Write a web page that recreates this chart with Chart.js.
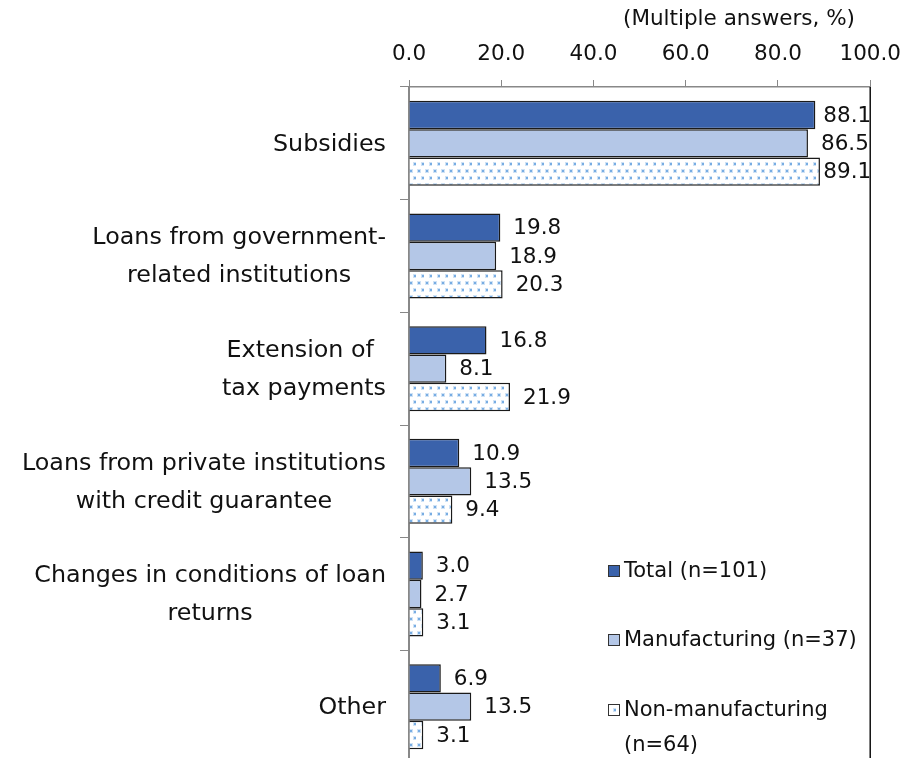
<!DOCTYPE html>
<html>
<head>
<meta charset="utf-8">
<script src="https://cdn.jsdelivr.net/npm/chart.js@4.4.1/dist/chart.umd.min.js"></script>
<style>
  html, body { margin: 0; padding: 0; background: #fff; overflow: hidden; }
  #chart { display: block; }
</style>
</head>
<body>
<canvas id="chart" width="914" height="763"></canvas>
<script>
// data
const categories = [
  "Subsidies",
  ["Loans from government-", "related institutions"],
  ["Extension of ", "tax payments"],
  ["Loans from private institutions", "with credit guarantee"],
  ["Changes in conditions of loan", "returns"],
  "Other",
];
const seriesNames = ["Total (n=101)", "Manufacturing (n=37)", "Non-manufacturing (n=64)"];
const totalValues = [88.1, 19.8, 16.8, 10.9, 3.0, 6.9];
const manufacturingValues = [86.5, 18.9, 8.1, 13.5, 2.7, 13.5];
const nonManufacturingValues = [89.1, 20.3, 21.9, 9.4, 3.1, 3.1];
const axisNote = "(Multiple answers, %)";

const FONT = "'DejaVu Sans', Verdana, sans-serif";
const FONT_SIZE = 21.5;
const LEGEND_FONT_SIZE = 21;
const CAT_FONT_SIZE = 23.8;
Chart.defaults.font.family = FONT;
Chart.defaults.font.size = FONT_SIZE;
Chart.defaults.color = "#111";

// dotted fill for non-manufacturing
function dotPattern() {
  const c = document.createElement("canvas");
  c.width = 8;
  c.height = 14;
  const g = c.getContext("2d");
  g.fillStyle = "#fff";
  g.fillRect(0, 0, 8, 14);
  const dot = (x, y) => {
    g.fillStyle = "#cfe2f5";
    g.fillRect(x - 1, y - 1, 4, 4);
    g.fillStyle = "#78ade3";
    g.fillRect(x, y, 2, 2);
  };
  dot(2, 2);
  dot(6, 9);
  return g.createPattern(c, "repeat");
}
const canvas = document.getElementById("chart");
const ctx = canvas.getContext("2d");
const dots = dotPattern();

const fills = ["#3a62ab", "#b4c7e7", dots];

// value labels at bar ends
const valueLabels = {
  id: "valueLabels",
  afterDatasetsDraw(chart) {
    const c = chart.ctx;
    const right = chart.chartArea.right;
    c.save();
    c.font = FONT_SIZE + "px " + FONT;
    c.fillStyle = "#111";
    c.textBaseline = "middle";
    c.textAlign = "left";
    chart.data.datasets.forEach((ds, i) => {
      chart.getDatasetMeta(i).data.forEach((bar, j) => {
        const txt = ds.data[j].toFixed(1);
        const w = c.measureText(txt).width;
        const x = Math.min(bar.x + 13, right - w + 1);
        c.fillText(txt, x, bar.y + 1);
      });
    });
    c.restore();
  },
};

// category labels: block right aligned, lines centred
const catLabels = {
  id: "catLabels",
  afterDraw(chart) {
    const c = chart.ctx;
    const scale = chart.scales.y;
    const xRight = chart.chartArea.left - 23;
    const lh = 38;
    c.save();
    c.font = CAT_FONT_SIZE + "px " + FONT;
    c.fillStyle = "#111";
    c.textBaseline = "middle";
    c.textAlign = "center";
    chart.data.labels.forEach((lab, i) => {
      const lines = Array.isArray(lab) ? lab : [lab];
      const w = Math.max(...lines.map((l) => c.measureText(l).width));
      const cx = xRight - w / 2;
      const cy = scale.getPixelForValue(i);
      lines.forEach((l, k) => {
        c.fillText(l, cx, cy + (k - (lines.length - 1) / 2) * lh + 1);
      });
    });
    c.restore();
  },
};

// right border, axis note and legend
const extras = {
  id: "extras",
  afterDraw(chart) {
    const c = chart.ctx;
    const a = chart.chartArea;
    c.save();
    c.strokeStyle = "#111";
    c.lineWidth = 1.5;
    c.beginPath();
    c.moveTo(a.right, a.top);
    c.lineTo(a.right, a.bottom);
    c.stroke();

    c.font = FONT_SIZE + "px " + FONT;
    c.fillStyle = "#111";
    c.textBaseline = "middle";
    c.textAlign = "right";
    c.fillText(axisNote, 855, 19);

    c.font = LEGEND_FONT_SIZE + "px " + FONT;
    c.textAlign = "left";
    const rowsY = [571, 640, 710];
    const textX = 624;
    chart.data.datasets.forEach((ds, i) => {
      const y = rowsY[i];
      c.fillStyle = fills[i];
      c.fillRect(608, y - 6, 12, 12);
      c.strokeStyle = "#333";
      c.lineWidth = 1;
      c.strokeRect(608.5, y - 5.5, 11, 11);
      c.fillStyle = "#111";
      // simple word wrap inside plot area
      const words = ds.label.split(" ");
      let line = "";
      let ly = y + 1;
      words.forEach((wd) => {
        const test = line ? line + " " + wd : wd;
        if (c.measureText(test).width > a.right - textX - 2 && line) {
          c.fillText(line, textX, ly);
          line = wd;
          ly += 35;
        } else {
          line = test;
        }
      });
      c.fillText(line, textX, ly);
    });
    c.restore();
  },
};

new Chart(ctx, {
  type: "bar",
  data: {
    labels: categories,
    datasets: [
      {
        label: seriesNames[0],
        data: totalValues,
        backgroundColor: fills[0],
        borderColor: "#1a1a1a",
        borderWidth: 1.5,
      },
      {
        label: seriesNames[1],
        data: manufacturingValues,
        backgroundColor: fills[1],
        borderColor: "#1a1a1a",
        borderWidth: 1.5,
      },
      {
        label: seriesNames[2],
        data: nonManufacturingValues,
        backgroundColor: fills[2],
        borderColor: "#1a1a1a",
        borderWidth: 1.5,
      },
    ],
  },
  options: {
    indexAxis: "y",
    responsive: false,
    animation: false,
    devicePixelRatio: 1,
    layout: { padding: { left: 0, right: 41, top: 0, bottom: 0 } },
    datasets: {
      bar: { categoryPercentage: 0.755, barPercentage: 1 },
    },
    plugins: {
      legend: { display: false },
      tooltip: { enabled: false },
    },
    scales: {
      x: {
        position: "top",
        min: 0,
        max: 100,
        ticks: {
          stepSize: 20,
          padding: 13,
          color: "#111",
          callback: (v) => Number(v).toFixed(1),
        },
        grid: {
          drawOnChartArea: false,
          tickLength: 7,
          color: "#888",
        },
        border: { color: "#888", width: 1.5 },
        afterFit: (scale) => {
          scale.height = 87;
        },
      },
      y: {
        ticks: { display: false },
        grid: {
          drawOnChartArea: false,
          tickLength: 9,
          color: "#888",
          offset: true,
        },
        border: { color: "#888", width: 2 },
        afterFit: (scale) => {
          scale.width = 409;
        },
      },
    },
  },
  plugins: [valueLabels, catLabels, extras],
});
</script>
</body>
</html>
